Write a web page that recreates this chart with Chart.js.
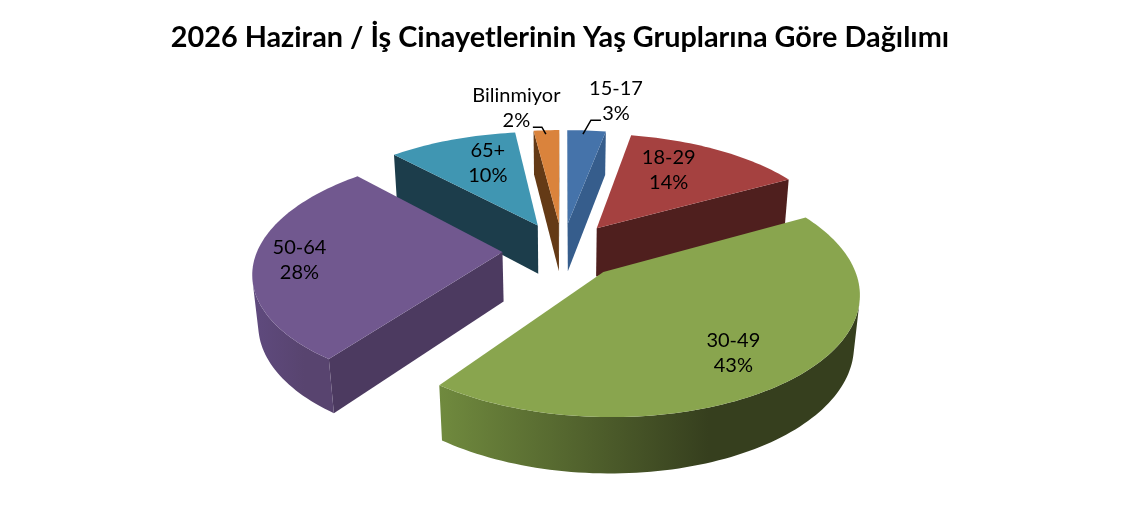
<!DOCTYPE html>
<html>
<head>
<meta charset="utf-8">
<title>İş Cinayetleri</title>
<script src="https://cdn.jsdelivr.net/npm/chart.js@4/dist/chart.umd.min.js"></script>
<style>
    html, body { margin: 0; padding: 0; background: #fff; }
    canvas { display: block; }
</style>
</head>
<body>
<canvas id="pie" width="1123" height="525"></canvas>
<script>
var categories = ['15-17', '18-29', '30-49', '50-64', '65+', 'Bilinmiyor'];
var shares = [3, 14, 43, 28, 10, 2];

var topColors = ['#4573aa', '#a54140', '#89a54e', '#71588f', '#4096b2', '#da833c'];
var sideColors = ['#365d8c', '#4f1f1e', '#3d4a22', '#4c3a60', '#1c3d4b', '#643a16'];
var curveStart = ['#365d8c', '#4f1f1e', '#708a3e', '#5f4a7e', '#1c3d4b', '#643a16'];
var curveEnd = ['#365d8c', '#4f1f1e', '#363f1e', '#58446f', '#1c3d4b', '#643a16'];

// label centre, measured from the tip of its slice
var labelShift = [[48, -122], [72, -58], [130, 81], [-203, 8], [-50, -63], [-42.5, -115]];
// leader lines for the two thin slices, also from the tip
var leaders = {
    0: [[15, -89], [23, -103], [33, -103]],
    5: [[-13, -89], [-17, -96], [-26, -96]]
};

var EXPLODE = 60;
var RADIUS = 245;
var THICKNESS = 57;
var SIN_TILT = 0.47;
var COS_TILT = 0.883;
var CAMERA = 1400;
// the title sits a little left of the pie
var PIE_SHIFT_X = 2.5;

// perspective for a point on the pie plane, z is negative below the top face
function project(cx, cy, u, v, z) {
    var w = 1 + (v * COS_TILT - z * SIN_TILT) / CAMERA;
    return {
        x: cx + PIE_SHIFT_X + u / w,
        y: cy - (v * SIN_TILT + z * COS_TILT) / w
    };
}

function pathOf(ctx, pts) {
    ctx.beginPath();
    ctx.moveTo(pts[0].x, pts[0].y);
    for (var i = 1; i < pts.length; i++) {
        ctx.lineTo(pts[i].x, pts[i].y);
    }
    ctx.closePath();
}

function isFacing(q) {
    var area = 0;
    for (var i = 0; i < q.length; i++) {
        var n = q[(i + 1) % q.length];
        area += q[i].x * n.y - n.x * q[i].y;
    }
    return area < 0;
}

function drawSlice(ctx, arc, index) {
    var mid = (arc.startAngle + arc.endAngle) / 2;
    var ox = Math.cos(mid) * arc.options.offset;
    var oy = Math.sin(mid) * arc.options.offset;
    var r = arc.outerRadius;
    var outline = [[ox, oy]];
    var steps = Math.max(4, Math.ceil((arc.endAngle - arc.startAngle) * 40));
    for (var s = 0; s <= steps; s++) {
        var a = arc.startAngle + (arc.endAngle - arc.startAngle) * s / steps;
        outline.push([ox + r * Math.cos(a), oy + r * Math.sin(a)]);
    }
    var top = outline.map(function(p) { return project(arc.x, arc.y, p[0], -p[1], 0); });
    var low = outline.map(function(p) { return project(arc.x, arc.y, p[0], -p[1], -THICKNESS); });

    // the flat cut faces, point 0 is the tip
    var last = top.length - 1;
    [[0, 1], [last, 0]].forEach(function(e) {
        var quad = [top[e[0]], top[e[1]], low[e[1]], low[e[0]]];
        if (isFacing(quad)) {
            ctx.fillStyle = sideColors[index];
            pathOf(ctx, quad);
            ctx.fill();
        }
    });

    // the rounded wall, one polygon over the part turned towards the viewer
    var from = -1, to = -1;
    for (var i = 1; i < last; i++) {
        if (isFacing([top[i], top[i + 1], low[i + 1], low[i]])) {
            if (from < 0) from = i;
            to = i + 1;
        }
    }
    if (from > 0) {
        var upper = top.slice(from, to + 1);
        var lower = low.slice(from, to + 1).reverse();
        var wall = upper.concat(lower);
        var xs = wall.map(function(p) { return p.x; });
        var shade = ctx.createLinearGradient(Math.min.apply(null, xs), 0, Math.max.apply(null, xs), 0);
        shade.addColorStop(0, curveStart[index]);
        shade.addColorStop(0.64, curveEnd[index]);
        shade.addColorStop(1, curveEnd[index]);
        ctx.fillStyle = shade;
        pathOf(ctx, wall);
        ctx.fill();
    }

    ctx.fillStyle = topColors[index];
    pathOf(ctx, top);
    ctx.fill();

    return top[0];
}

var pie3d = {
    id: 'pie3d',
    beforeDatasetDraw: function(chart, args) {
        var ctx = chart.ctx;
        var arcs = args.meta.data;
        var tips = [];
        // back slices first, the big front ones overlap them
        var order = [0, 5, 4, 1, 3, 2];
        ctx.save();
        order.forEach(function(i) {
            tips[i] = drawSlice(ctx, arcs[i], i);
        });

        ctx.fillStyle = '#000';
        ctx.strokeStyle = '#000';
        ctx.lineWidth = 1.5;
        Object.keys(leaders).forEach(function(k) {
            ctx.beginPath();
            leaders[k].forEach(function(p, n) {
                var px = tips[k].x + p[0], py = tips[k].y + p[1];
                if (n === 0) ctx.moveTo(px, py); else ctx.lineTo(px, py);
            });
            ctx.stroke();
        });

        ctx.font = '20px Lato';
        ctx.textAlign = 'center';
        ctx.textBaseline = 'middle';
        categories.forEach(function(name, i) {
            var lx = tips[i].x + labelShift[i][0];
            var ly = tips[i].y + labelShift[i][1];
            ctx.fillText(name, lx, ly - 12.5);
            ctx.fillText(shares[i] + '%', lx, ly + 12.5);
        });
        ctx.restore();
        return false;
    }
};

new Chart(document.getElementById('pie'), {
    type: 'pie',
    plugins: [pie3d],
    data: {
        labels: categories,
        datasets: [{
            data: shares,
            backgroundColor: topColors,
            offset: EXPLODE,
            borderWidth: 0
        }]
    },
    options: {
        responsive: false,
        animation: false,
        radius: RADIUS,
        layout: { padding: { right: 3, bottom: 79 } },
        plugins: {
            legend: { display: false },
            tooltip: { enabled: false },
            title: {
                display: true,
                text: '2026 Haziran / İş Cinayetlerinin Yaş Gruplarına Göre Dağılımı',
                color: '#000',
                font: { family: 'Lato', size: 28.8, weight: 'bold' },
                padding: { top: 20, bottom: 0 }
            }
        }
    }
});
</script>
</body>
</html>
